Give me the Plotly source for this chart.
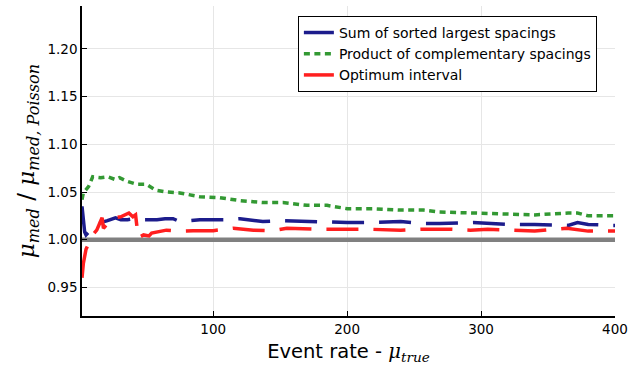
import plotly.graph_objects as go

# ---- data ----
blue_x = [2, 3, 4, 5, 10, 13, 16, 21, 27, 31, 36, 40, 45, 50, 58, 64, 70, 75,
          90, 101, 110, 120, 137, 152, 170, 185, 200, 219, 240, 257, 269, 294,
          320, 340, 355, 365, 372, 380, 398, 400]
blue_y = [1.035, 1.020, 1.008, 1.005, 1.0125, 1.015, 1.018, 1.020, 1.023, 1.021, 1.021, 1.022,
          1.021, 1.021, 1.021, 1.022, 1.022, 1.019,
          1.021, 1.021, 1.021, 1.022, 1.019, 1.020, 1.019, 1.018, 1.018, 1.018, 1.019, 1.017,
          1.017, 1.018, 1.016, 1.016, 1.015, 1.015, 1.018, 1.016, 1.015, 1.015]

green_x = [2, 3, 7, 10, 16, 21, 27, 30, 36, 43, 50, 57, 65, 75, 90, 105, 120, 137,
           152, 170, 185, 200, 219, 240, 257, 269, 294, 320, 340, 365, 372, 380, 398, 400]
green_y = [1.042, 1.049, 1.056, 1.066, 1.065, 1.066, 1.063, 1.065, 1.061, 1.058, 1.058, 1.052,
           1.050, 1.049, 1.045, 1.044, 1.041, 1.039, 1.039, 1.036, 1.036, 1.0325, 1.0325,
           1.031, 1.031, 1.029, 1.028, 1.027, 1.026, 1.028, 1.028, 1.025, 1.025, 1.025]

red_x = [2, 3, 5, 8, 10, 13, 17, 18, 25, 31, 37, 40, 42, 44, 48, 52, 54, 65, 75, 85,
         100, 115, 130, 145, 155, 175, 185, 200, 215, 240, 257, 277, 292, 305, 325, 340,
         364, 380, 398, 400]
red_y = [0.960, 0.975, 0.990, 1.000, 1.005, 1.010, 1.023, 1.012, 1.023, 1.024, 1.028, 1.024,
         1.026, 1.002, 1.005, 1.004, 1.007, 1.010, 1.009, 1.0095, 1.0095, 1.012, 1.010,
         1.0095, 1.012, 1.011, 1.011, 1.011, 1.011, 1.010, 1.011, 1.011, 1.010, 1.011,
         1.010, 1.009, 1.012, 1.009, 1.009, 1.009]

series_names = ["Sum of sorted largest spacings",
                "Product of complementary spacings",
                "Optimum interval"]

x_range = [2, 400]
y_range = [0.92, 1.245]
x_ticks = [100, 200, 300, 400]
y_ticks = [0.95, 1.00, 1.05, 1.10, 1.15, 1.20]
ref_level = 1.0

fig = go.Figure()
# reference line at ratio = 1
fig.add_trace(go.Scatter(x=x_range, y=[ref_level] * len(x_range), mode="lines",
                         line=dict(color="#808080", width=4.5), showlegend=False,
                         hoverinfo="skip"))
fig.add_trace(go.Scatter(x=blue_x, y=blue_y, mode="lines", name=series_names[0],
                         line=dict(color="#1c1c8c", width=3.5, dash="32px,15px")))
fig.add_trace(go.Scatter(x=green_x, y=green_y, mode="lines", name=series_names[1],
                         line=dict(color="#339933", width=3.5, dash="6px,4.5px")))
fig.add_trace(go.Scatter(x=red_x, y=red_y, mode="lines", name=series_names[2],
                         line=dict(color="#ff1f1f", width=3.5, dash="32px,15px")))

math = "font-family:'DejaVu Serif'"
ytitle = (f"<span style=\"{math}\"><i>μ</i></span><sub><span style=\"{math}\"><i>med</i></span></sub>"
          f" / <span style=\"{math}\"><i>μ</i></span><sub><span style=\"{math}\"><i>med, Poisson</i></span></sub>")
xtitle = (f"Event rate - <span style=\"{math}\"><i>μ</i></span>"
          f"<sub><span style=\"{math}\"><i>true</i></span></sub>")

fig.update_layout(
    width=628, height=369,
    margin=dict(l=82, r=13, t=6, b=53),
    plot_bgcolor="white", paper_bgcolor="white",
    font=dict(family="DejaVu Sans", size=13.5, color="black"),
    showlegend=True,
    legend=dict(x=0.966, y=0.968, xanchor="right", yanchor="top",
                bgcolor="white", bordercolor="black", borderwidth=1,
                font=dict(size=14), tracegroupgap=0),
    xaxis=dict(range=x_range, tickvals=x_ticks, ticks="inside", ticklen=5,
               tickcolor="black", showline=True, linecolor="black", linewidth=1.5,
               showgrid=True, gridcolor="#e6e6e6", gridwidth=1, zeroline=False,
               tickfont=dict(size=13.5), automargin=False,
               title=dict(text=xtitle, font=dict(size=19.5), standoff=8)),
    yaxis=dict(range=y_range, tickvals=y_ticks, tickformat=".2f", ticks="inside",
               ticklen=5, tickcolor="black", showline=True, linecolor="black", linewidth=1.5,
               showgrid=True, gridcolor="#e6e6e6", gridwidth=1, zeroline=False,
               tickfont=dict(size=13.5), automargin=False,
               title=dict(text=ytitle, font=dict(size=23), standoff=6)),
)

fig.write_html("out.html")
